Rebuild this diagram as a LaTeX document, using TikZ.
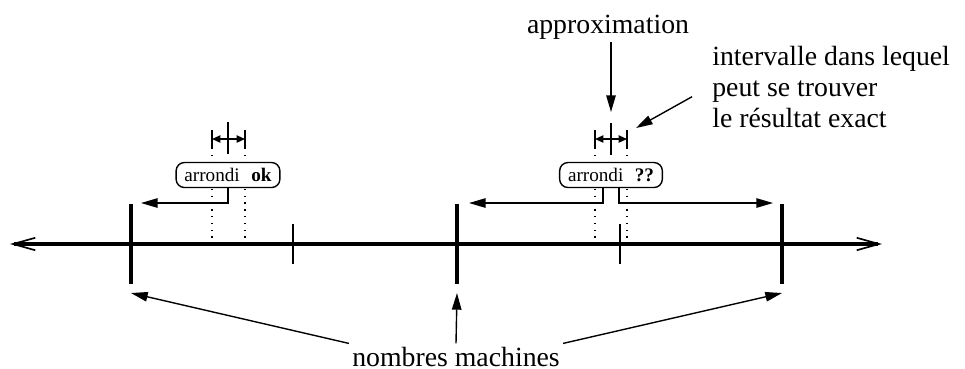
\documentclass[tikz,border=0pt]{standalone}
\usepackage{fontspec}
\setmainfont{Liberation Serif}
\usetikzlibrary{arrows.meta,calc}
\tikzset{
  axe/.style={line width=1.1pt},
  fleche/.style={-{Triangle[length=6pt,width=3.4pt]}, line width=0.5pt},
  petite/.style={{Triangle[length=3pt,width=2.6pt]}-{Triangle[length=3pt,width=2.6pt]}, line width=0.5pt},
  pointille/.style={dotted, line width=0.45pt},
  boite/.style={draw, rounded corners=3pt, fill=white, line width=0.5pt, inner xsep=3pt, inner ysep=1pt, minimum height=9pt, font=\fontsize{6.9}{8}\selectfont},
  texte/.style={inner sep=1pt, font=\fontsize{10}{11.2}\selectfont},
}
\begin{document}
\begin{tikzpicture}[x=0.36pt,y=-0.36pt]
\useasboundingbox (0,0) rectangle (965,368);
% axe des reels
\coordinate (g) at (10,244);
\coordinate (d) at (882,244);
\draw[axe, {Straight Barb[length=8pt,width=4.5pt,line width=0.6pt]}-{Straight Barb[length=8pt,width=4.5pt,line width=0.6pt]}] (g) -- (d);
% nombres machines
\coordinate (m1) at (131,244);
\coordinate (m2) at (457,244);
\coordinate (m3) at (782,244);
\draw[axe] (131,204) -- (131,284);
\draw[axe] (457,204) -- (457,284);
\draw[axe] (782,204) -- (782,284);
\draw[line width=0.5pt] (293,224) -- (293,264);
\draw[line width=0.5pt] (620,224) -- (620,264);
% intervalle de gauche
\draw[pointille] (212,148) -- (212,244);
\draw[pointille] (245,148) -- (245,244);
\draw[line width=0.5pt] (212,130) -- (212,148);
\draw[line width=0.5pt] (245,130) -- (245,148);
\draw[petite] (212,139) -- (245,139);
\draw[line width=0.5pt] (228,122) -- (228,154);
\node[boite] (ok) at (228,175) {arrondi\hspace{0.6em}\textbf{ok}};
\coordinate (okg) at (141,203);
\draw[fleche] (ok.south) |- (okg);
% intervalle de droite
\draw[pointille] (595,148) -- (595,244);
\draw[pointille] (627,148) -- (627,244);
\draw[line width=0.5pt] (595,130) -- (595,148);
\draw[line width=0.5pt] (627,130) -- (627,148);
\draw[petite] (595,139) -- (627,139);
\draw[line width=0.5pt] (611,123) -- (611,155);
\node[boite] (qq) at (611,175) {arrondi\hspace{0.6em}\textbf{??}};
\coordinate (qqg) at (469,203);
\coordinate (qqd) at (773,203);
\draw[fleche] ($(qq.south)+(-8,0)$) |- (qqg);
\draw[fleche] ($(qq.south)+(8,0)$) |- (qqd);
% legendes
\node[texte, anchor=base] (approx) at (608,33) {approximation};
\coordinate (approxpt) at (611,112);
\draw[fleche] (approx.south -| approxpt) -- (approxpt);
\node[texte, anchor=north west, align=left] (inter) at (709,43) {intervalle dans lequel\\peut se trouver\\le résultat exact};
\coordinate (interpt) at (636,128);
\draw[fleche, shorten <=7pt] (inter.west) -- (interpt);
\node[texte, anchor=base] (nm) at (456,366) {nombres machines};
\coordinate (b1) at (131,293);
\coordinate (b2) at (457,293);
\coordinate (b3) at (782,293);
\draw[fleche] (nm.north west) -- (b1);
\draw[fleche] (nm.north) -- (b2);
\draw[fleche] (nm.north east) -- (b3);
\end{tikzpicture}
\end{document}
